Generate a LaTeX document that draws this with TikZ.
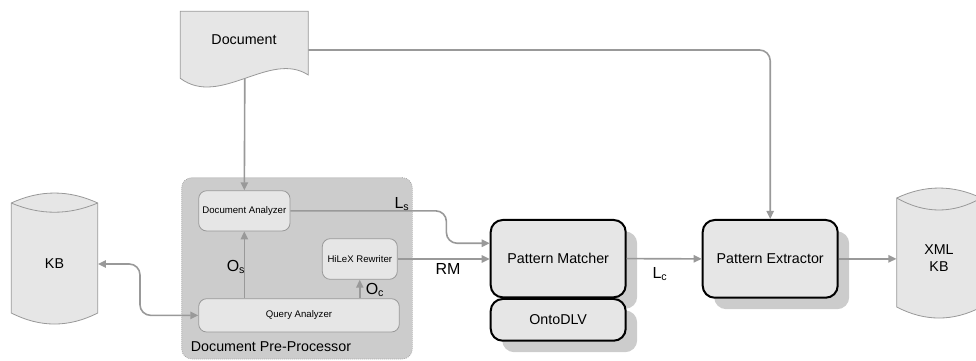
\documentclass[tikz,border=0pt]{standalone}
\usepackage{fontspec}
\setmainfont{Liberation Sans}
\usepackage{tikz}
\usetikzlibrary{arrows.meta, calc, shadows}

\definecolor{linegray}{HTML}{999999}
\definecolor{boxgray}{HTML}{E6E6E6}
\definecolor{groupgray}{HTML}{CCCCCC}

\begin{document}
\begin{tikzpicture}[x=0.75pt, y=-0.75pt,
    >={Triangle[length=6pt,width=5.5pt]},
    flow/.style={draw=linegray, line width=1.2pt, ->, color=linegray},
    cyl/.style={draw=linegray, fill=boxgray, line width=0.6pt},
    inner/.style={draw=linegray, fill=boxgray, rounded corners=6pt, line width=0.6pt,
        inner sep=0pt, font=\fontsize{7.2}{8}\selectfont},
    module/.style={draw=black, fill=boxgray, line width=1.5pt, rounded corners=9pt,
        inner sep=0pt, minimum width=101.25pt, font=\fontsize{10.7}{12}\selectfont,
        drop shadow={shadow xshift=8.6pt, shadow yshift=-8.6pt, fill=groupgray, opacity=1}},
    lbl/.style={font=\fontsize{12}{14}\selectfont, inner sep=0pt}]

    \useasboundingbox (0,0) rectangle (976,361);

    % Draw the document shape
    \draw[cyl] (180.3,11.3) -- (308.3,11.3) -- (308.3,75)
        .. controls (270,50) and (220,108) .. (180.3,78.3) -- cycle;
    \node[font=\fontsize{10.7}{12}\selectfont] (doc) at (244,40) {Document};
    \coordinate (docbot) at (244.8,78.4);
    \coordinate (docright) at (308.3,50);

    % Draw the KB cylinder
    \draw[cyl] (11.3,203) .. controls (40.1,189.7) and (68.9,189.7) .. (97.7,203)
        -- (97.7,313) .. controls (68.9,327.7) and (40.1,327.7) .. (11.3,313) -- cycle;
    \draw[draw=linegray, line width=0.6pt] (11.3,203) .. controls (40.1,215.3) and (68.9,215.3) .. (97.7,203);
    \node[font=\fontsize{10.7}{12}\selectfont, inner sep=0pt, minimum width=64.8pt] (kb) at (54.5,264) {KB};

    % Draw the XML KB cylinder
    \draw[cyl] (896.7,198) .. controls (924.9,184.7) and (953.1,184.7) .. (981.3,198)
        -- (981.3,307) .. controls (953.1,321.7) and (924.9,321.7) .. (896.7,307) -- cycle;
    \draw[draw=linegray, line width=0.6pt] (896.7,198) .. controls (924.9,214) and (953.1,214) .. (981.3,198);
    \node[font=\fontsize{10.7}{12.75}\selectfont, align=center, inner sep=0pt,
        minimum width=63.45pt] (xkb) at (939,258.5) {XML\\KB};

    % Draw the pre-processor group
    \node[draw=linegray, densely dotted, fill=groupgray, rounded corners=7.5pt, line width=0.5pt,
        minimum width=173pt, minimum height=136pt] (dpp) at (297,268.35) {};
    \node[font=\fontsize{10.7}{12}\selectfont] (dpplabel) at (271,347) {Document Pre-Processor};

    % Draw the inner modules
    \node[inner, minimum width=68.5pt, minimum height=30.2pt] (da) at (244.35,210.85) {Document Analyzer};
    \node[inner, minimum width=56.25pt, minimum height=30.5pt] (hr) at (359.8,259) {HiLeX Rewriter};
    \node[inner, minimum width=150.5pt, minimum height=25pt] (qa) at (299,315.35) {Query Analyzer};

    % Draw the main modules
    \node[module, minimum height=58pt] (pm) at (558.2,258.65) {Pattern Matcher};
    \node[module, minimum height=31.3pt] (onto) at (558.2,319.85) {OntoDLV};
    \node[module, minimum height=58.3pt] (pe) at (770.2,258.85) {Pattern Extractor};

    % Draw the connectors
    \draw[flow] (docbot) -- (da.north);
    \draw[flow, rounded corners=8pt] (docright) -| (pe.north);
    \draw[flow, <->, rounded corners=8pt] (kb.east) -- ++(42,0) |- (qa.west);
    \draw[flow] (da.south |- qa.north) -- (da.south);
    \draw[flow] (hr.south |- qa.north) -- (hr.south);
    \draw[flow, rounded corners=8pt] (da.east) -- ++(156,0) |- ($(pm.west)+(0,-15.4)$);
    \draw[flow] (hr.east) -- (hr.east -| pm.west);
    \draw[flow] (pm.east) -- (pe.west);
    \draw[flow] (pe.east) -- (pe.east -| xkb.west);

    % Label the flows
    \node[lbl] (ls) at (402,204) {L\textsubscript{s}};
    \node[lbl] (rm) at (448,269) {RM};
    \node[lbl] (lc) at (660,274) {L\textsubscript{c}};
    \node[lbl] (os) at (236,267) {O\textsubscript{s}};
    \node[lbl] (oc) at (375,290) {O\textsubscript{c}};

\end{tikzpicture}
\end{document}
